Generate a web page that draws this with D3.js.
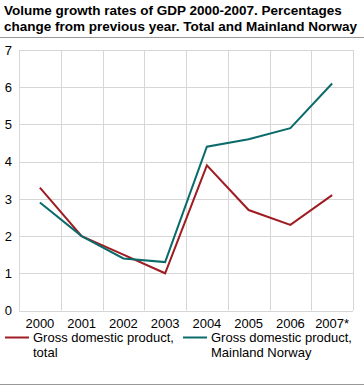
<!DOCTYPE html>
<html><head><meta charset="utf-8">
<script src="https://cdn.jsdelivr.net/npm/d3@7"></script>
<style>body{margin:0;background:#fff;}svg{display:block;font-family:"Liberation Sans",Arial,sans-serif;}</style>
</head><body><div id="chart"></div>
<script>
const years = ["2000","2001","2002","2003","2004","2005","2006","2007*"];
const totalGDP = [3.3, 2.0, 1.5, 1.0, 3.9, 2.7, 2.3, 3.1];
const mainlandGDP = [2.9, 2.0, 1.4, 1.3, 4.4, 4.6, 4.9, 6.1];
const yTicks = [0,1,2,3,4,5,6,7];
const seriesNames = ["Gross domestic product, total", "Gross domestic product, Mainland Norway"];
const colors = ["#9e1c22", "#0b6b6a"];

const W = 364, H = 389;
const svg = d3.select("#chart").append("svg").attr("width", W).attr("height", H);
const m = {left:19, right:11, top:50, bottom:78};
const x = d3.scaleBand().domain(years).range([m.left, W - m.right]);
const y = d3.scaleLinear().domain([0,7]).range([H - m.bottom - 0.5, m.top]);

// title
const title = svg.append("text").attr("x",4).attr("font-weight","bold").attr("font-size",13.5).attr("fill","#000");
title.append("tspan").attr("x",4).attr("y",15).text("Volume growth rates of GDP 2000-2007. Percentages");
title.append("tspan").attr("x",4).attr("y",31).text("change from previous year. Total and Mainland Norway");
svg.append("line").attr("x1",0).attr("x2",W).attr("y1",37.5).attr("y2",37.5).attr("stroke","#999").attr("stroke-width",1);

// grid
const g = svg.append("g");
g.selectAll(".hg").data(yTicks).join("line")
  .attr("x1", m.left).attr("x2", W - m.right)
  .attr("y1", d => Math.round(y(d))+0.5).attr("y2", d => Math.round(y(d))+0.5)
  .attr("stroke","#d6d6d6").attr("stroke-width",1);
const vx = years.map(yy => x(yy)).concat([W - m.right]);
g.selectAll(".vg").data(vx).join("line")
  .attr("x1", d => Math.round(d)+0.5).attr("x2", d => Math.round(d)+0.5)
  .attr("y1", y(7)).attr("y2", y(0))
  .attr("stroke","#d6d6d6").attr("stroke-width",1);

// axes
const yAxis = d3.axisLeft(y).tickValues(yTicks).tickFormat(d3.format("d")).tickSize(0).tickPadding(7);
svg.append("g").attr("transform",`translate(${m.left},0)`).call(yAxis)
  .call(s => s.select(".domain").remove())
  .selectAll("text").attr("font-size",13).attr("fill","#000").attr("font-family","Liberation Sans, Arial, sans-serif");
const xAxis = d3.axisBottom(x).tickSize(0).tickPadding(8);
svg.append("g").attr("transform",`translate(0,${y(0)})`).call(xAxis)
  .call(s => s.select(".domain").remove())
  .selectAll("text").attr("font-size",13).attr("fill","#000").attr("font-family","Liberation Sans, Arial, sans-serif");

// lines
const line = d3.line().x((d,i) => x(years[i]) + x.bandwidth()/2).y(d => y(d));
[totalGDP, mainlandGDP].forEach((s,i) => {
  svg.append("path").datum(s).attr("d", line).attr("fill","none")
    .attr("stroke", colors[i]).attr("stroke-width",2).attr("stroke-linejoin","miter");
});

// legend
const legX = [5, 183];
const legLines = [["Gross domestic product,","total"],["Gross domestic product,","Mainland Norway"]];
legLines.forEach((ls,i) => {
  svg.append("line").attr("x1", legX[i]).attr("x2", legX[i]+24).attr("y1",337.5).attr("y2",337.5)
    .attr("stroke", colors[i]).attr("stroke-width",2);
  const t = svg.append("text").attr("font-size",13).attr("fill","#000");
  ls.forEach((l,j) => t.append("tspan").attr("x", legX[i]+28).attr("y", 342 + j*15).text(l));
});
svg.append("line").attr("x1",0).attr("x2",W).attr("y1",384.5).attr("y2",384.5).attr("stroke","#999").attr("stroke-width",1);
</script></body></html>
